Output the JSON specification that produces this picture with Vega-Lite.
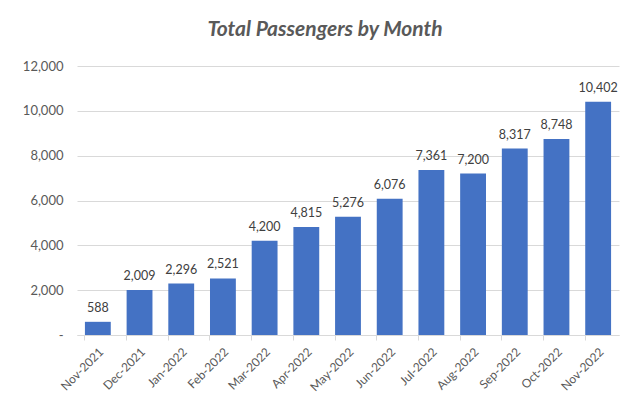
{
  "$schema": "https://vega.github.io/schema/vega-lite/v6.json",
  "width": 542,
  "height": 269,
  "autosize": {"type": "none"},
  "padding": {"left": 77, "top": 66, "right": 3, "bottom": 74},
  "background": "white",
  "title": {
    "text": "Total Passengers by Month",
    "font": "Lato",
    "fontSize": 21,
    "fontStyle": "italic",
    "fontWeight": "bold",
    "color": "#595959",
    "anchor": "middle",
    "dx": -23,
    "offset": 20
  },
  "data": {
    "values": [
      {"month": "Nov-2021", "passengers": 588},
      {"month": "Dec-2021", "passengers": 2009},
      {"month": "Jan-2022", "passengers": 2296},
      {"month": "Feb-2022", "passengers": 2521},
      {"month": "Mar-2022", "passengers": 4200},
      {"month": "Apr-2022", "passengers": 4815},
      {"month": "May-2022", "passengers": 5276},
      {"month": "Jun-2022", "passengers": 6076},
      {"month": "Jul-2022", "passengers": 7361},
      {"month": "Aug-2022", "passengers": 7200},
      {"month": "Sep-2022", "passengers": 8317},
      {"month": "Oct-2022", "passengers": 8748},
      {"month": "Nov-2022", "passengers": 10402}
    ]
  },
  "encoding": {
    "x": {
      "field": "month",
      "type": "nominal",
      "sort": null,
      "scale": {"paddingInner": 0.38, "paddingOuter": 0.19},
      "axis": {
        "title": null,
        "labelAngle": -45,
        "labelAlign": "right",
        "labelBaseline": "top",
        "labelFont": "Lato",
        "labelFontSize": 12,
        "labelColor": "#595959",
        "labelPadding": 6,
        "domainColor": "#d9d9d9",
        "tickColor": "#d9d9d9",
        "tickSize": 5,
        "bandPosition": 0
      }
    },
    "y": {
      "field": "passengers",
      "type": "quantitative",
      "scale": {"domain": [0, 12000], "nice": false},
      "axis": {
        "title": null,
        "values": [0, 2000, 4000, 6000, 8000, 10000, 12000],
        "labelExpr": "datum.value == 0 ? '-' : format(datum.value, ',')",
        "labelFont": "Lato",
        "labelFontSize": 13,
        "labelColor": "#595959",
        "labelPadding": 14,
        "domain": false,
        "ticks": false,
        "gridColor": "#d9d9d9",
        "gridWidth": 1
      }
    }
  },
  "layer": [
    {"mark": {"type": "bar", "color": "#4472C4"}},
    {
      "mark": {"type": "text", "dy": -14, "font": "Lato", "fontSize": 12.5, "color": "#404040"},
      "encoding": {"text": {"field": "passengers", "type": "quantitative", "format": ","}}
    }
  ],
  "config": {"view": {"stroke": null}}
}
